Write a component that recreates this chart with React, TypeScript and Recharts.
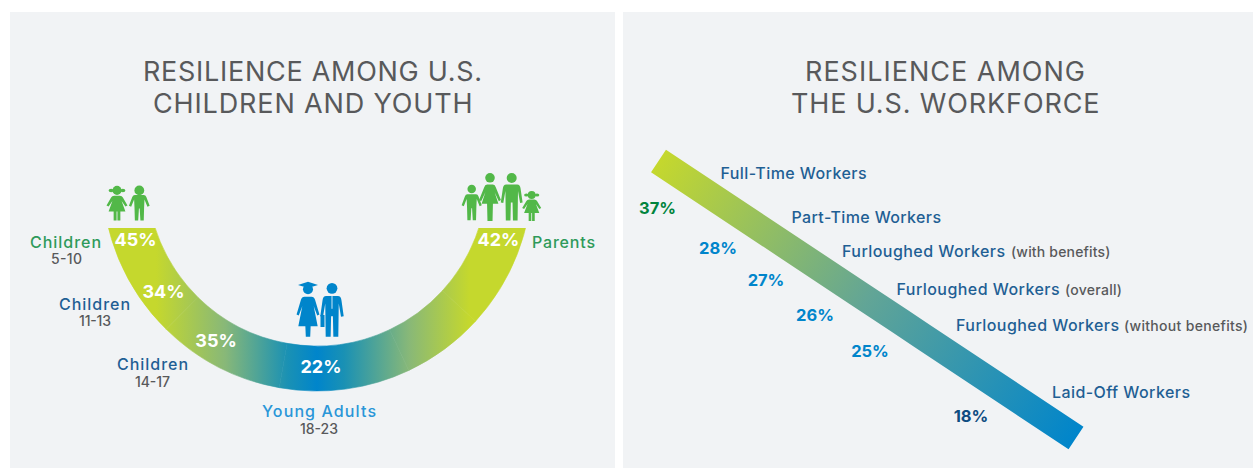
import React from "react";
import { PieChart, Pie, Sector, LineChart, Line, XAxis, YAxis, LabelList } from "recharts";

const FONT = "Inter, 'Open Sans', sans-serif";
const PANEL = "#F1F3F5";
const OLIVE = "#C5D82D";
const BLUE = "#0085CB";
const GREEN_ICON = "#52B848";

// ---- data ----
const ageGroups = ["Children 5-10", "Children 11-13", "Children 14-17", "Young Adults 18-23", "Parents"];
const ageValues = [45, 34, 35, 22, 42];
const workerGroups = [
  "Full-Time Workers",
  "Part-Time Workers",
  "Furloughed Workers (with benefits)",
  "Furloughed Workers (overall)",
  "Furloughed Workers (without benefits)",
  "Laid-Off Workers",
];
const workerValues = [37, 28, 27, 26, 25, 18];

const ageData = ageGroups.map((name, i) => ({ name, value: ageValues[i] }));
const workerData = workerGroups.map((name, i) => ({ name, value: workerValues[i], drop: workerValues[0] - workerValues[i] }));

// ---- layout ----
const RIGHT_CHART_X = 620;
const ageLabelXY = [[135.5, 246], [163.5, 298], [216, 347], [321, 373], [498.5, 246]];
const workerLabelXY = [[657.5, 214], [718, 254], [766, 286], [815, 321], [870, 357], [971, 422]];
const workerLabelFill = ["#00843D", BLUE, BLUE, BLUE, BLUE, "#0F4C81"];

const titles = [
  { t: "RESILIENCE AMONG U.S.", x: 143, w: 339, y: 81 },
  { t: "CHILDREN AND YOUTH", x: 153, w: 319.5, y: 113 },
  { t: "RESILIENCE AMONG", x: 805, w: 280, y: 81 },
  { t: "THE U.S. WORKFORCE", x: 791, w: 308.5, y: 113 },
];
const groupText = [
  { t: "Children", x: 30, w: 71, y: 248, fill: "#2E9A5A" },
  { t: "Children", x: 59, w: 71, y: 310, fill: "#1F5F94" },
  { t: "Children", x: 117, w: 71, y: 370, fill: "#1F5F94" },
  { t: "Young Adults", x: 262, w: 114, y: 417, fill: "#2A96D8" },
  { t: "Parents", x: 532, w: 63, y: 248, fill: "#2E9A5A" },
];
const ageText = [
  { t: "5-10", x: 51, w: 31, y: 264 },
  { t: "11-13", x: 79, w: 32, y: 326 },
  { t: "14-17", x: 135, w: 35, y: 387 },
  { t: "18-23", x: 300, w: 38, y: 434 },
];
const workerText = [
  { t: "Full-Time Workers", x: 720.5, w: 146, y: 179 },
  { t: "Part-Time Workers", x: 791.5, w: 149.5, y: 223 },
  { t: "Furloughed Workers", x: 842, w: 163, y: 256.5 },
  { t: "Furloughed Workers", x: 896.5, w: 163, y: 294.5 },
  { t: "Furloughed Workers", x: 956, w: 163, y: 330.5 },
  { t: "Laid-Off Workers", x: 1052, w: 138, y: 398 },
];
const noteText = [
  { t: "(with benefits)", x: 1011, w: 99.5, y: 256.5 },
  { t: "(overall)", x: 1065, w: 57, y: 294.5 },
  { t: "(without benefits)", x: 1124, w: 124, y: 330.5 },
];

const BOY = "M-12,27 L12,27 Q17,27 19,33 L28,58 L22,61 L14,40 L13,62 L12,100 L3,100 L1,66 L-1,66 L-3,100 L-12,100 L-13,62 L-14,40 L-22,61 L-28,58 L-19,33 Q-17,27 -12,27 Z";
const GIRL = "M-7,29 L7,29 Q12,29 14,34 L25,57 L20,60 L11,44 L20,74 L8,74 L8,100 L1,100 L1,74 L-1,74 L-1,100 L-8,100 L-8,74 L-20,74 L-11,44 L-20,60 L-25,57 L-14,34 Q-12,29 -7,29 Z";
const WOMAN = "M-7,24 L7,24 Q12,24 14,30 L26,56 L21,59 L11,40 L20,64 L7,64 L6,100 L-6,100 L-7,64 L-20,64 L-11,40 L-21,59 L-26,56 L-14,30 Q-12,24 -7,24 Z";
const GRAD = "M-8,24 L8,24 Q14,24 16,30 L26,58 L21,60 L13,42 L22,80 L6,80 L5,100 L-5,100 L-6,80 L-22,80 L-13,42 L-21,60 L-26,58 L-16,30 Q-14,24 -8,24 Z";
const MAN = "M-13,24 L13,24 Q20,24 21,32 L26,62 L20,63 L15,38 L14,100 L3,100 L2,62 L-2,62 L-3,100 L-14,100 L-15,38 L-20,63 L-26,62 L-21,32 Q-20,24 -13,24 Z";

function Figure({ d, x, top, h, sx, fill, headR = 11, headY = 11, pig = false, children }: any) {
  return (
    <g transform={`translate(${x},${top}) scale(${sx},${h / 100})`} fill={fill}>
      <ellipse cx={0} cy={headY} rx={headR * (h / 100) / sx} ry={headR} />
      {pig && <ellipse cx={-14} cy={headY} rx={6} ry={5} />}
      {pig && <ellipse cx={14} cy={headY} rx={6} ry={5} />}
      <path d={d} />
      {children}
    </g>
  );
}

function ageLabel(props: any) {
  const [x, y] = ageLabelXY[props.index];
  return (
    <text key={props.index} x={x} y={y} textAnchor="middle" fontFamily={FONT} fontWeight={700} fontSize={18} fill="#FFFFFF">
      {`${props.value}%`}
    </text>
  );
}

function workerLabel(props: any) {
  const [x, y] = workerLabelXY[props.index];
  return (
    <text key={props.index} x={x - RIGHT_CHART_X} y={y} textAnchor="middle" fontFamily={FONT} fontWeight={700} fontSize={16.5} fill={workerLabelFill[props.index]}>
      {`${props.value}%`}
    </text>
  );
}

export default function App() {
  return (
    <div style={{ position: "absolute", left: 0, top: 0, width: 1253, height: 468, background: "#FFFFFF", overflow: "hidden" }}>
      <div style={{ position: "absolute", left: 10, top: 12, width: 605, height: 456, background: PANEL }} />
      <div style={{ position: "absolute", left: 623, top: 12, width: 630, height: 456, background: PANEL }} />

      <div style={{ position: "absolute", left: 0, top: 0 }}>
        <PieChart width={620} height={468} margin={{ top: 0, right: 0, bottom: 0, left: 0 }}>
          <defs>
            <linearGradient id="arcGrad" gradientUnits="userSpaceOnUse" x1={108} y1={0} x2={526} y2={0}>
              <stop offset={0} stopColor={OLIVE} />
              <stop offset={0.115} stopColor={OLIVE} />
              <stop offset={0.28} stopColor="#88B878" />
              <stop offset={0.43} stopColor="#1A91B4" />
              <stop offset={0.5} stopColor={BLUE} />
              <stop offset={0.565} stopColor="#1A91B4" />
              <stop offset={0.72} stopColor="#88B878" />
              <stop offset={0.865} stopColor={OLIVE} />
              <stop offset={1} stopColor={OLIVE} />
            </linearGradient>
            <clipPath id="arcClip">
              <rect x={0} y={228} width={620} height={240} />
            </clipPath>
          </defs>
          <Pie
            data={ageData}
            dataKey="value"
            nameKey="name"
            cx={317}
            cy={176}
            innerRadius={170}
            outerRadius={215}
            startAngle={180}
            endAngle={360}
            paddingAngle={0}
            fill="url(#arcGrad)"
            stroke="url(#arcGrad)"
            strokeWidth={0.6}
            isAnimationActive={false}
            labelLine={false}
            label={ageLabel}
            shape={(p: any) => (
              <g clipPath="url(#arcClip)">
                <Sector {...p} />
              </g>
            )}
          />
        </PieChart>
      </div>

      <div style={{ position: "absolute", left: RIGHT_CHART_X, top: 0 }}>
        <LineChart
          width={633}
          height={468}
          data={workerData}
          margin={{ top: 161, right: 177, bottom: 30, left: 38.5 }}
        >
          <defs>
            <linearGradient id="bandGrad" gradientUnits="userSpaceOnUse" x1={38.5} y1={161} x2={456} y2={438}>
              <stop offset={0} stopColor={OLIVE} />
              <stop offset={0.5} stopColor="#62A596" />
              <stop offset={1} stopColor={BLUE} />
            </linearGradient>
          </defs>
          <XAxis dataKey="drop" type="number" domain={[0, 19]} hide />
          <YAxis dataKey="value" type="number" domain={[18, 37]} hide />
          <Line
            dataKey="value"
            type="linear"
            stroke="url(#bandGrad)"
            strokeWidth={27}
            strokeLinecap="butt"
            dot={false}
            activeDot={false}
            isAnimationActive={false}
          >
            <LabelList dataKey="value" content={workerLabel} />
          </Line>
        </LineChart>
      </div>

      <svg width={1253} height={468} style={{ position: "absolute", left: 0, top: 0, pointerEvents: "none" }} fontFamily={FONT}>
        <g fill="#58595B" fontSize={27}>
          {titles.map((g, i) => (
            <text key={i} x={g.x} y={g.y} textLength={g.w} lengthAdjust="spacing">{g.t}</text>
          ))}
        </g>
        <g fontWeight={500} fontSize={16}>
          {groupText.map((g, i) => (
            <text key={i} x={g.x} y={g.y} fill={g.fill} textLength={g.w} lengthAdjust="spacing">{g.t}</text>
          ))}
          {workerText.map((g, i) => (
            <text key={i} x={g.x} y={g.y} fill="#1F5F94" textLength={g.w} lengthAdjust="spacing">{g.t}</text>
          ))}
        </g>
        <g fill="#58595B" fontSize={14} fontWeight={500}>
          {ageText.map((g, i) => (
            <text key={i} x={g.x} y={g.y} textLength={g.w} lengthAdjust="spacing">{g.t}</text>
          ))}
          {noteText.map((g, i) => (
            <text key={i} x={g.x} y={g.y} textLength={g.w} lengthAdjust="spacing">{g.t}</text>
          ))}
        </g>

        {/* children */}
        <Figure d={GIRL} x={117} top={185.5} h={35} sx={0.42} fill={GREEN_ICON} pig headR={13} headY={14} />
        <Figure d={BOY} x={139.3} top={185.5} h={35} sx={0.37} fill={GREEN_ICON} headR={14} headY={14} />
        {/* family */}
        <Figure d={BOY} x={471.7} top={184.7} h={35.5} sx={0.36} fill={GREEN_ICON} headR={12} headY={12} />
        <Figure d={WOMAN} x={490} top={173} h={48} sx={0.42} fill={GREEN_ICON} headR={10} headY={10} />
        <Figure d={MAN} x={511.7} top={173} h={47.5} sx={0.42} fill={GREEN_ICON} headR={10.5} headY={10.5} />
        <Figure d={GIRL} x={531.7} top={190.7} h={30.3} sx={0.38} fill={GREEN_ICON} pig headR={13} headY={14} />
        {/* young adults */}
        <polygon points="298,285 308,281.7 318,285 308,288" fill={BLUE} />
        <Figure d={GRAD} x={308} top={284} h={52.7} sx={0.44} fill={BLUE} headR={9.5} headY={10} />
        <Figure d={MAN} x={332} top={283} h={53.7} sx={0.45} fill={BLUE} headR={10} headY={10}>
          <rect x={-1.2} y={24} width={2.4} height={24} fill="#BFE0F2" />
        </Figure>
        <rect x={320.5} y={315} width={4} height={12} fill={BLUE} />
      </svg>
    </div>
  );
}
